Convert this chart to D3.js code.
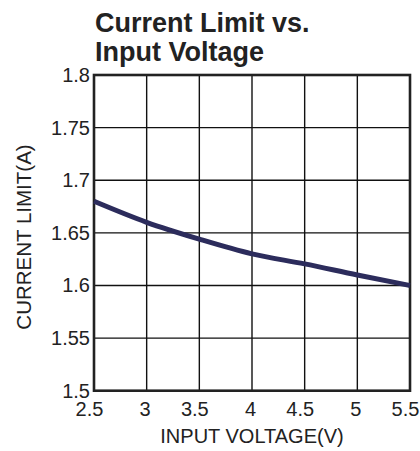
<!DOCTYPE html>
<html><head><meta charset="utf-8">
<script src="https://cdn.jsdelivr.net/npm/d3@7"></script>
<style>body{margin:0;background:#fff}svg{display:block}</style>
</head><body>
<script>
const voltage = [2.5, 3, 3.5, 4, 4.5, 5, 5.5];
const currentLimit = [1.68, 1.66, 1.644, 1.63, 1.6205, 1.61, 1.6];
const xTicks = [2.5, 3, 3.5, 4, 4.5, 5, 5.5];
const yTicks = [1.5, 1.55, 1.6, 1.65, 1.7, 1.75, 1.8];
const titleLines = ["Current Limit vs.", "Input Voltage"];

const W = 420, H = 451;
const m = {left: 94, right: 10, top: 75, bottom: 60.3};
const svg = d3.select("body").append("svg").attr("width", W).attr("height", H);
const font = "Liberation Sans, Arial, Helvetica, sans-serif";

const x = d3.scaleLinear().domain([2.5, 5.5]).range([m.left, W - m.right]);
const y = d3.scaleLinear().domain([1.5, 1.8]).range([H - m.bottom, m.top]);

// grid
svg.append("g").selectAll("line").data(xTicks).join("line")
  .attr("x1", d => x(d)).attr("x2", d => x(d))
  .attr("y1", y(1.5)).attr("y2", y(1.8))
  .attr("stroke", "#111").attr("stroke-width", 1.4);
svg.append("g").selectAll("line").data(yTicks).join("line")
  .attr("y1", d => y(d)).attr("y2", d => y(d))
  .attr("x1", x(2.5)).attr("x2", x(5.5))
  .attr("stroke", "#111").attr("stroke-width", 1.4);

// frame
svg.append("rect").attr("x", x(2.5)).attr("y", y(1.8))
  .attr("width", x(5.5) - x(2.5)).attr("height", y(1.5) - y(1.8))
  .attr("fill", "none").attr("stroke", "#222").attr("stroke-width", 2.6);

// line
const line = d3.line().x((d, i) => x(voltage[i])).y(d => y(d)).curve(d3.curveMonotoneX);
svg.append("path").datum(currentLimit).attr("d", line)
  .attr("fill", "none").attr("stroke", "#2c2c5c").attr("stroke-width", 5);

// axes labels
const xAxis = d3.axisBottom(x).tickValues(xTicks).tickSize(0).tickPadding(11).tickFormat(d3.format("~g"));
const gx = svg.append("g").attr("transform", `translate(0,${y(1.5)})`).call(xAxis);
gx.select(".domain").remove();
gx.selectAll("text").attr("font-family", font).attr("font-size", 20).attr("fill", "#222")
  .attr("dx", d => Number.isInteger(d) ? -2 : -5);

const yAxis = d3.axisLeft(y).tickValues(yTicks).tickSize(0).tickPadding(4).tickFormat(d3.format("~g"));
const gy = svg.append("g").attr("transform", `translate(${x(2.5)},0)`).call(yAxis);
gy.select(".domain").remove();
gy.selectAll("text").attr("font-family", font).attr("font-size", 20).attr("fill", "#222");

// titles
svg.append("text").attr("x", (x(2.5) + x(5.5)) / 2).attr("y", 443)
  .attr("text-anchor", "middle").attr("font-family", font).attr("font-size", 20).attr("fill", "#222")
  .text("INPUT VOLTAGE(V)");
svg.append("text").attr("transform", `translate(31,237) rotate(-90)`)
  .attr("text-anchor", "middle").attr("font-family", font).attr("font-size", 20.5).attr("fill", "#222")
  .text("CURRENT LIMIT(A)");

svg.append("g").selectAll("text").data(titleLines).join("text")
  .attr("x", 95).attr("y", (d, i) => 31.5 + i * 29)
  .attr("font-family", font).attr("font-size", 27).attr("font-weight", "bold").attr("fill", "#222")
  .text(d => d);
</script>
</body></html>
